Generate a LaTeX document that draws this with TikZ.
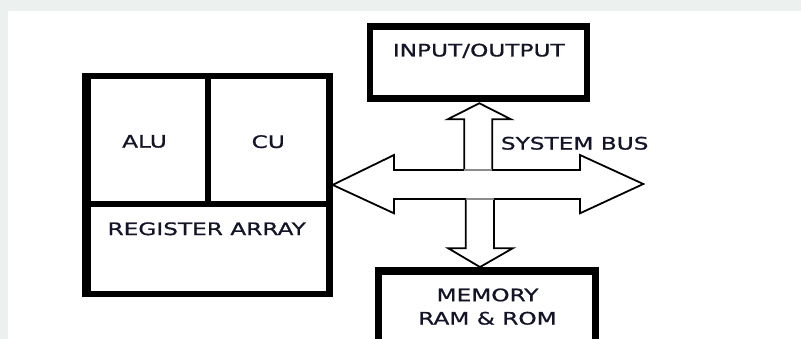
\documentclass[tikz,border=0pt]{standalone}
\usepackage{fontspec}
\setmainfont{DejaVu Sans}[FakeStretch=1.35,FakeBold=0.9]
\usetikzlibrary{calc}
\definecolor{bgstrip}{RGB}{236,241,239}
\definecolor{junc}{RGB}{140,140,140}
\definecolor{txt}{RGB}{20,20,40}
\begin{document}
\begin{tikzpicture}[x=1pt,y=-1pt,
  box/.style={draw=black,line width=6.5pt,fill=white,inner sep=0pt},
  lbl/.style={inner sep=0pt,text height=12.5pt,text depth=0pt,text=txt,font=\fontsize{17.2}{20}\selectfont},
  bus/.style={draw=black,line width=1.8pt,fill=white,line join=miter},
  divider/.style={draw=black,line width=6.5pt}]
\useasboundingbox (0,0) rectangle (801,339);
\clip (0,0) rectangle (801,339);
\fill[bgstrip] (0,0) rectangle (801,339);
\fill[white] (7.5,11.5) rectangle (801,339);
% CPU block
\node[box,minimum width=243.1pt,minimum height=218pt] (cpu) at (207.85,184.9) {};
\fill[black] (81.7,72.7) rectangle (91,297);
\draw[divider] (cpu.west |- 0,204) -- (cpu.east |- 0,204);
\draw[divider] (cpu.north) -- (cpu.north |- 0,204);
\node[lbl] (alu) at (144.5,141.3) {ALU};
\node[lbl] (cu) at (268.3,141.7) {CU};
\node[lbl] (reg) at (206.7,228.8) {REGISTER ARRAY};
% I/O block
\node[box,minimum width=217.2pt,minimum height=71.8pt] (io) at (478.6,62.6) {};
\node[lbl] (iot) at (478.8,50.2) {INPUT/OUTPUT};
% Memory block
\node[box,line width=7.5pt,minimum width=216.8pt,minimum height=89.2pt] (mem) at (487.1,315.4) {};
\node[lbl] (mem1) at (487.5,295) {MEMORY};
\node[lbl] (mem2) at (487.5,318.3) {RAM \& ROM};
% System bus
\draw[bus] (cpu.east) -- (394,155) -- (394,170) -- (580,170) -- (580,155) -- (643.3,184)
  -- (580,213.3) -- (580,199) -- (394,199) -- (394,213.3) -- cycle;
\draw[bus] (464.3,170) -- (464.3,119.3) -- (447.7,119.3) -- ($(io.south)+(0.7,1.5)$)
  -- (511,119.3) -- (492.3,119.3) -- (492.3,170);
\draw[bus] (465.7,199) -- (465.7,248.3) -- (448.3,248.3) -- ($(mem.north)+(-7.1,0)$)
  -- (512.7,248.3) -- (494,248.3) -- (494,199);
\draw[junc,line width=1.8pt] (464.3,170) -- (492.3,170);
\draw[junc,line width=1.8pt] (465.7,199) -- (494,199);
\node[lbl] (bust) at (574.7,143.3) {SYSTEM BUS};
\end{tikzpicture}
\end{document}
